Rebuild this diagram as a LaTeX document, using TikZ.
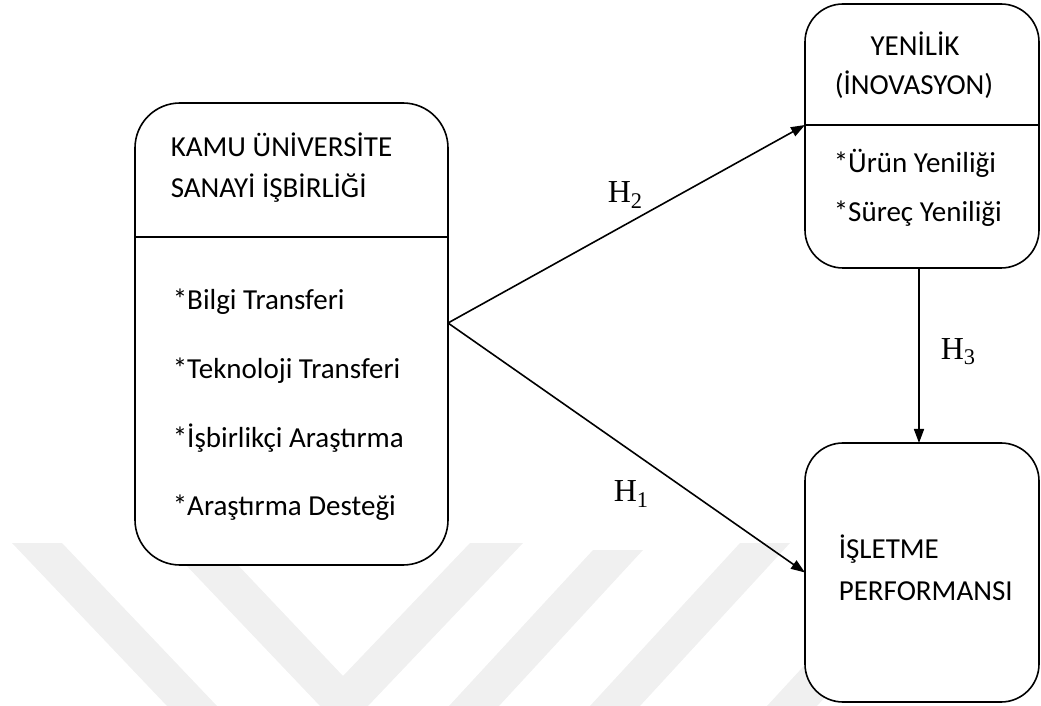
\documentclass[tikz,border=0pt]{standalone}
\usepackage{fontspec}
\setmainfont{Carlito}
\newfontfamily\hypfont{Liberation Serif}
\usetikzlibrary{arrows.meta}
\tikzset{>={Triangle[width=5pt,length=7pt]}}

\begin{document}
\begin{tikzpicture}[x=0.5pt, y=-0.5pt, line width=0.8pt,
  blok/.style={draw, fill=white, inner sep=0pt, outer sep=0pt},
  yazi/.style={anchor=base west, inner sep=0pt, font=\fontsize{14.5}{17}\selectfont},
  hip/.style={anchor=base west, inner sep=0pt, font=\hypfont\fontsize{16}{18}\selectfont}]

  \useasboundingbox (0,0) rectangle (1041,706);

  % faint marks in the background
  \fill[black!6] (12,543) -- (62,543) -- (217,706) -- (167,706) -- cycle;
  \fill[black!6] (165,543) -- (217,543) -- (343,676) -- (470,543) -- (523,543)
                 -- (368,706) -- (320,706) -- cycle;
  \fill[black!6] (593,550) -- (643,550) -- (499,706) -- (449,706) -- cycle;
  \fill[black!6] (740,543) -- (790,543) -- (640,706) -- (590,706) -- cycle;
  \fill[black!6] (917,543) -- (967,543) -- (817,706) -- (767,706) -- cycle;

  % boxes
  \node[blok, rounded corners=22.5pt, minimum width=156.5pt, minimum height=231pt]
    (kamu) at (291.5,334) {};
  \node[blok, rounded corners=19pt, minimum width=117pt, minimum height=132pt]
    (yenilik) at (922,136) {};
  \node[blok, rounded corners=19pt, minimum width=117pt, minimum height=129.5pt]
    (isletme) at (922,572.5) {};

  \draw (kamu.west |- 0,237) -- (kamu.east |- 0,237);
  \draw (yenilik.west |- 0,125) -- (yenilik.east |- 0,125);

  % left box
  \node[yazi] (kamuA) at (170,157) {KAMU ÜNİVERSİTE};
  \node[yazi] (kamuB) at (170,198) {SANAYİ İŞBİRLİĞİ};
  \node[yazi] (bilgi) at (172,310) {*Bilgi Transferi};
  \node[yazi] (tekno) at (172,379) {*Teknoloji Transferi};
  \node[yazi] (isbir) at (172,448) {*İşbirlikçi Araştırma};
  \node[yazi] (destek) at (172,516) {*Araştırma Desteği};

  % right boxes
  \node[yazi, anchor=base] (yenA) at (915,56) {YENİLİK};
  \node[yazi, anchor=base] (yenB) at (914,95) {(İNOVASYON)};
  \node[yazi] (urun) at (833,173) {*Ürün Yeniliği};
  \node[yazi] (surec) at (833,222) {*Süreç Yeniliği};
  \node[yazi] (islA) at (838,559) {İŞLETME};
  \node[yazi] (islB) at (838,600) {PERFORMANSI};

  % hypotheses
  \draw[->] ([yshift=5.5pt]kamu.east) -- ([yshift=5.5pt]yenilik.west);
  \draw[->] ([yshift=5.5pt]kamu.east) -- (isletme.west);
  \draw[->] ([xshift=-1.5pt]yenilik.south) -- ([xshift=-1.5pt]isletme.north);

  \node[hip] (h2) at (607,203) {H\textsubscript{2}};
  \node[hip] (h1) at (613,502) {H\textsubscript{1}};
  \node[hip] (h3) at (940,359) {H\textsubscript{3}};

\end{tikzpicture}
\end{document}
